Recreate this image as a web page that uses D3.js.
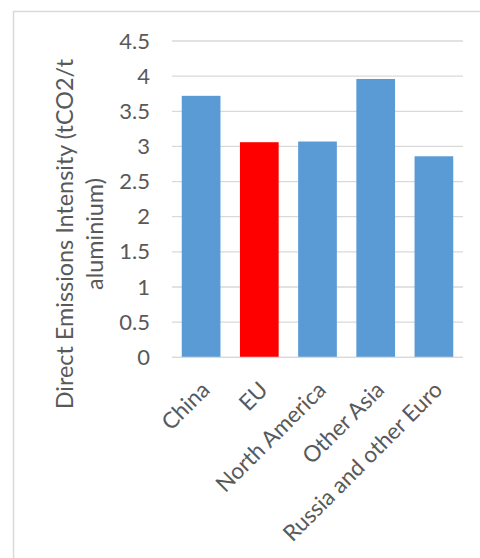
<!DOCTYPE html>
<html><head><meta charset="utf-8">
<script src="https://cdn.jsdelivr.net/npm/d3@7"></script>
<style>body{margin:0;background:#fff;}svg{display:block;}</style>
</head><body>
<script>
const categories = ["China", "EU", "North America", "Other Asia", "Russia and other Euro"];
const values = [3.72, 3.06, 3.07, 3.96, 2.86];
const barColors = ["#5b9bd5", "#ff0000", "#5b9bd5", "#5b9bd5", "#5b9bd5"];
const yTicks = [0, 0.5, 1, 1.5, 2, 2.5, 3, 3.5, 4, 4.5];
const yTitle = ["Direct Emissions Intensity (tCO2/t", "aluminium)"];

const W = 480, H = 558;
const svg = d3.select("body").append("svg").attr("width", W).attr("height", H);
const font = "Lato, 'Open Sans', sans-serif";

// chart border
svg.append("rect").attr("x", 13.5).attr("y", 11.5).attr("width", 480).attr("height", 560)
  .attr("fill", "none").attr("stroke", "#d9d9d9").attr("stroke-width", 1.5);

const x = d3.scaleBand().domain(categories).range([172, 463]).paddingInner(0.335).paddingOuter(0.1675);
const y = d3.scaleLinear().domain([0, 4.5]).range([357.3, 41]);

// gridlines
svg.append("g").selectAll("line").data(yTicks).join("line")
  .attr("x1", 172).attr("x2", 463)
  .attr("y1", d => y(d)).attr("y2", d => y(d))
  .attr("stroke", "#d9d9d9").attr("stroke-width", 1.3);

// y axis labels
const yAxis = d3.axisLeft(y).tickValues(yTicks).tickSize(0).tickPadding(0).tickFormat(d => String(d));
const gy = svg.append("g").attr("transform", "translate(150,0)").call(yAxis);
gy.select(".domain").remove();
gy.selectAll("text").attr("font-family", font).attr("font-size", 22).attr("fill", "#595959");

// bars
svg.append("g").selectAll("rect").data(categories).join("rect")
  .attr("x", d => x(d)).attr("width", x.bandwidth())
  .attr("y", (d, i) => y(values[i])).attr("height", (d, i) => y(0) - y(values[i]))
  .attr("fill", (d, i) => barColors[i]);

// x axis
const xAxis = d3.axisBottom(x).tickSize(0).tickPadding(0);
const gx = svg.append("g").attr("transform", `translate(0,${y(0)})`).call(xAxis);
gx.select(".domain").attr("stroke", "#d9d9d9").attr("stroke-width", 1.3).attr("d", "M172,0H463");
gx.selectAll("text").attr("font-family", font).attr("font-size", 22.5).attr("fill", "#595959")
  .attr("text-anchor", "end").attr("dy", null).attr("y", 0)
  .attr("transform", "translate(10,34) rotate(-45)");

// y title
const t = svg.append("text").attr("transform", "translate(0,234) rotate(-90)")
  .attr("text-anchor", "middle").attr("font-family", font).attr("font-size", 23.4).attr("fill", "#595959");
t.selectAll("tspan").data(yTitle).join("tspan")
  .attr("x", 0).attr("y", (d, i) => 73 + i * 30).text(d => d);
</script>
</body></html>
